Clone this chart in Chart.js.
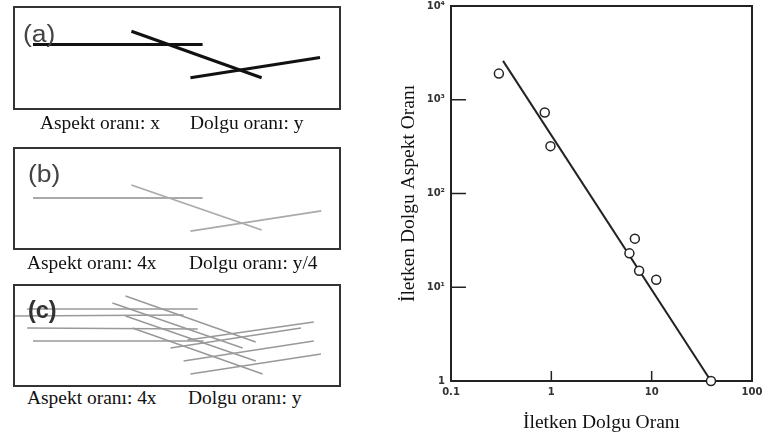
<!DOCTYPE html>
<html lang="tr">
<head>
    <meta charset="UTF-8">
    <title>İletken Dolgu Aspekt Oranı</title>
    <style>
        body {
            margin: 0;
            width: 766px;
            height: 439px;
            background: #fff;
            position: relative;
            overflow: hidden;
        }
        canvas, .lbl, .cap {
            position: absolute;
        }
        .lbl {
            font-family: 'Liberation Sans', Arial, sans-serif;
            font-size: 23px;
            line-height: 26px;
            color: #444;
            transform: scaleX(1.15);
            transform-origin: left center;
        }
        .cap {
            font-family: 'Liberation Serif', 'Times New Roman', serif;
            font-size: 18px;
            line-height: 22px;
            color: #111;
            white-space: nowrap;
            transform: scaleX(1.08);
            transform-origin: left center;
        }
    </style>
    <script src="https://cdn.jsdelivr.net/npm/chart.js"></script>
</head>
<body>
    <canvas id="panelA" width="328" height="104" style="left:13px;top:6px"></canvas>
    <canvas id="panelB" width="328" height="103" style="left:13px;top:147px"></canvas>
    <canvas id="panelC" width="328" height="103" style="left:13px;top:284px"></canvas>

    <div class="lbl" style="left:23px;top:21px">(a)</div>
    <div class="lbl" style="left:28px;top:161px">(b)</div>
    <div class="lbl" style="left:28px;top:297px;font-weight:bold;color:#333;transform:scaleX(1.02)">(c)</div>

    <div class="cap" style="left:40px;top:112px">Aspekt oranı: x</div>
    <div class="cap" style="left:190px;top:112px">Dolgu oranı: y</div>
    <div class="cap" style="left:27px;top:252px">Aspekt oranı: 4x</div>
    <div class="cap" style="left:189px;top:252px">Dolgu oranı: y/4</div>
    <div class="cap" style="left:27px;top:387px">Aspekt oranı: 4x</div>
    <div class="cap" style="left:188px;top:387px">Dolgu oranı: y</div>

    <canvas id="mainChart" width="376" height="439" style="left:390px;top:0"></canvas>

    <script>
        // log-log plot data
        const fillerRatio = [0.30, 0.86, 0.98, 6.8, 6.0, 7.5, 11.1, 39];
        const aspectRatio = [1900, 730, 320, 33, 23, 15, 12, 1];
        const fitX = [0.33, 39];
        const fitY = [2600, 1];

        const xTickValues = [0.1, 1, 10, 100];
        const xTickLabels = ['0.1', '1', '10', '100'];
        const yTickValues = [1, 10, 100, 1000, 10000];
        const yTickLabels = ['1', '10¹', '10²', '10³', '10⁴'];

        // sketch panels: each segment is [x1, y1, x2, y2] in panel units (0-100)
        const segmentsA = [
            [6.1, 63, 57.8, 63],
            [36.1, 75.7, 75.8, 31],
            [54.1, 31, 93.6, 50.5]
        ];
        const segmentsB = [
            [6.1, 50.5, 57.8, 50.5],
            [36.1, 63.1, 75.8, 19.4],
            [54.1, 18.4, 94, 37.9]
        ];
        const segmentsC = [
            [4.3, 75.7, 56.3, 75.7],
            [0, 68.9, 52, 69.9],
            [4.3, 57.3, 56.3, 56.3],
            [6.1, 44.7, 58.1, 44.7],
            [34.3, 88.3, 74, 43.7],
            [30.3, 81.6, 70, 37.9],
            [34.3, 68.9, 74, 25.2],
            [36.4, 57.3, 76.1, 12.6],
            [53.2, 45.6, 91.7, 63.1],
            [48, 37.9, 87.8, 57.3],
            [52, 25.2, 91.7, 44.7],
            [54.1, 12.6, 93.9, 32]
        ];

        const boxBorder = {
            id: 'boxBorder',
            afterDraw(chart) {
                const {ctx, chartArea: a} = chart;
                ctx.save();
                ctx.strokeStyle = '#333';
                ctx.lineWidth = 2;
                ctx.strokeRect(a.left + 1, a.top + 1, a.right - a.left - 2, a.bottom - a.top - 2);
                ctx.restore();
            }
        };

        function makePanel(id, segments, color, width) {
            new Chart(document.getElementById(id), {
                type: 'scatter',
                data: {
                    datasets: segments.map(s => ({
                        data: [{x: s[0], y: s[1]}, {x: s[2], y: s[3]}],
                        showLine: true,
                        borderColor: color,
                        borderWidth: width,
                        pointRadius: 0
                    }))
                },
                options: {
                    responsive: false,
                    animation: false,
                    layout: {padding: 0},
                    plugins: {legend: {display: false}, tooltip: {enabled: false}},
                    scales: {
                        x: {type: 'linear', min: 0, max: 100, display: false},
                        y: {type: 'linear', min: 0, max: 100, display: false}
                    }
                },
                plugins: [boxBorder]
            });
        }

        makePanel('panelA', segmentsA, '#111', 3);
        makePanel('panelB', segmentsB, '#aaa', 1.8);
        makePanel('panelC', segmentsC, '#999', 1.5);

        // frame and inward tick marks of the log plot
        const frameTicks = {
            id: 'frameTicks',
            beforeDatasetsDraw(chart) {
                const {ctx, chartArea: a, scales: {x, y}} = chart;
                ctx.save();
                ctx.strokeStyle = '#222';
                ctx.lineWidth = 2;
                ctx.strokeRect(a.left, a.top, a.right - a.left, a.bottom - a.top);
                ctx.lineWidth = 1.5;
                ctx.beginPath();
                yTickValues.slice(1, -1).forEach(v => {
                    const py = y.getPixelForValue(v);
                    ctx.moveTo(a.left, py);
                    ctx.lineTo(a.left + 15, py);
                });
                xTickValues.slice(1, -1).forEach(v => {
                    const px = x.getPixelForValue(v);
                    ctx.moveTo(px, a.bottom);
                    ctx.lineTo(px, a.bottom - 10);
                });
                ctx.stroke();
                ctx.restore();
            }
        };

        const tickFont = {family: "'DejaVu Sans', sans-serif", size: 10, weight: 'bold'};
        const titleFont = {family: "'Liberation Serif', 'Times New Roman', serif", size: 19.5};

        function labelFor(values, labels, v) {
            const i = values.findIndex(t => Math.abs(t - v) / t < 1e-6);
            return i >= 0 ? labels[i] : '';
        }

        new Chart(document.getElementById('mainChart'), {
            type: 'scatter',
            data: {
                datasets: [
                    {
                        data: fillerRatio.map((v, i) => ({x: v, y: aspectRatio[i]})),
                        pointStyle: 'circle',
                        pointRadius: 4.5,
                        backgroundColor: '#fff',
                        borderColor: '#222',
                        borderWidth: 1.5,
                        clip: false
                    },
                    {
                        data: fitX.map((v, i) => ({x: v, y: fitY[i]})),
                        showLine: true,
                        borderColor: '#222',
                        borderWidth: 2,
                        pointRadius: 0
                    }
                ]
            },
            options: {
                responsive: false,
                animation: false,
                layout: {padding: {top: 4, right: 14, left: 0, bottom: 0}},
                plugins: {legend: {display: false}, tooltip: {enabled: false}},
                scales: {
                    x: {
                        type: 'logarithmic',
                        min: 0.1,
                        max: 100,
                        grid: {display: false, drawTicks: false},
                        border: {display: false},
                        afterBuildTicks: s => { s.ticks = xTickValues.map(v => ({value: v})); },
                        afterFit: s => {
                            s.height = 58;
                            s.paddingLeft = 0; s.paddingRight = 0;
                        },
                        ticks: {
                            autoSkip: false,
                            maxRotation: 0,
                            padding: 5,
                            color: '#333',
                            font: tickFont,
                            callback: v => labelFor(xTickValues, xTickLabels, v)
                        },
                        title: {
                            display: true,
                            text: 'İletken Dolgu Oranı',
                            color: '#111',
                            font: titleFont,
                            padding: {top: 0, bottom: 4}
                        }
                    },
                    y: {
                        type: 'logarithmic',
                        min: 1,
                        max: 10000,
                        grid: {display: false, drawTicks: false},
                        border: {display: false},
                        afterBuildTicks: s => { s.ticks = yTickValues.map(v => ({value: v})); },
                        afterFit: s => {
                            s.width = 61;
                            s.paddingTop = 0; s.paddingBottom = 0;
                        },
                        ticks: {
                            autoSkip: false,
                            padding: 6,
                            color: '#333',
                            font: tickFont,
                            callback: v => labelFor(yTickValues, yTickLabels, v)
                        },
                        title: {
                            display: true,
                            text: 'İletken Dolgu Aspekt Oranı',
                            color: '#111',
                            font: titleFont,
                            padding: {top: 7, bottom: 0}
                        }
                    }
                }
            },
            plugins: [frameTicks]
        });
    </script>
</body>
</html>
